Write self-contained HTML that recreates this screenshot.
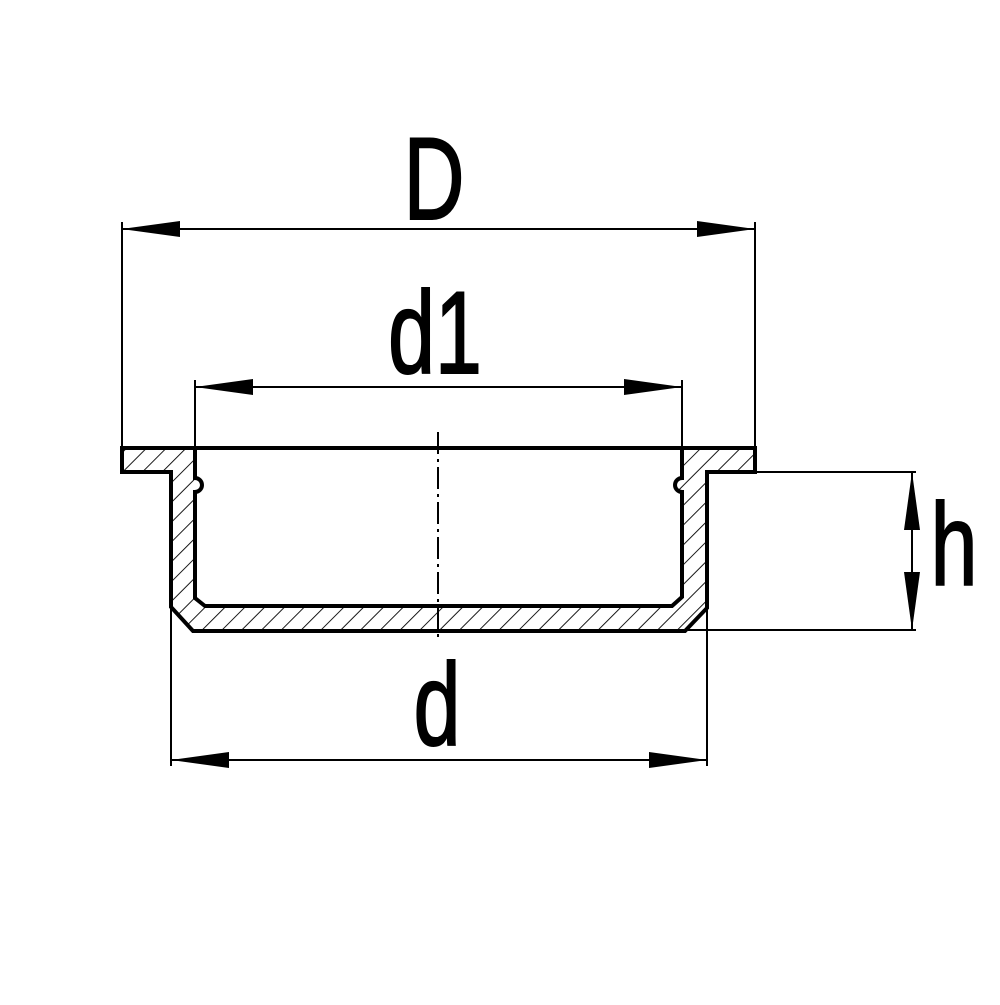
<!DOCTYPE html>
<html><head><style>html,body{margin:0;padding:0;background:#fff}</style></head><body>
<svg width="1000" height="1000" viewBox="0 0 1000 1000" xmlns="http://www.w3.org/2000/svg">
<defs>
<pattern id="hat" patternUnits="userSpaceOnUse" width="14" height="14" patternTransform="rotate(45)">
<line x1="0" y1="0" x2="0" y2="14" stroke="#000" stroke-width="1.8"/>
</pattern>
</defs>
<rect width="1000" height="1000" fill="#fff"/>
<g fill="url(#hat)" stroke="#000" stroke-width="4" stroke-linejoin="miter">
<path d="M122,448 L195,448 L195,478 A7,7 0 0 1 195,492 L195,598 L205,606 L672,606 L682,597 L682,492 A7,7 0 0 1 682,478 L682,448 L755,448 L755,472 L707,472 L707,608 L685,631 L193,631 L171,607 L171,472 L122,472 Z"/>
</g>
<line x1="122" y1="448" x2="755" y2="448" stroke="#000" stroke-width="4"/>
<g stroke="#000" stroke-width="2" fill="none">
<line x1="122" y1="222" x2="122" y2="448"/>
<line x1="755" y1="222" x2="755" y2="448"/>
<line x1="195" y1="380" x2="195" y2="448"/>
<line x1="682" y1="380" x2="682" y2="448"/>
<line x1="171" y1="607" x2="171" y2="766"/>
<line x1="707" y1="608" x2="707" y2="766"/>
<line x1="707" y1="472" x2="916" y2="472"/>
<line x1="688" y1="630" x2="916" y2="630"/>
<line x1="122" y1="229" x2="755" y2="229"/>
<line x1="195" y1="387" x2="682" y2="387"/>
<line x1="171" y1="760" x2="707" y2="760"/>
<line x1="912" y1="472" x2="912" y2="630"/>
<line x1="438" y1="432" x2="438" y2="642" stroke-dasharray="22,5,3,5"/>
</g>
<g fill="#000">
<polygon points="122,229 180,221 180,237"/>
<polygon points="755,229 697,221 697,237"/>
<polygon points="195,387 253,379 253,395"/>
<polygon points="682,387 624,379 624,395"/>
<polygon points="171,760 229,752 229,768"/>
<polygon points="707,760 649,752 649,768"/>
<polygon points="912,472 904,530 920,530"/>
<polygon points="912,630 904,572 920,572"/>
</g>
<g font-family="Liberation Sans, sans-serif" font-size="117" fill="#000" stroke="#000" stroke-width="2">
<text transform="translate(434,219) scale(0.72,1)" text-anchor="middle">D</text>
<text transform="translate(435,373) scale(0.72,1)" text-anchor="middle">d1</text>
<text transform="translate(437,745) scale(0.72,1)" text-anchor="middle">d</text>
<text transform="translate(954,585) scale(0.72,1)" text-anchor="middle">h</text>
</g>
</svg>
</body></html>
